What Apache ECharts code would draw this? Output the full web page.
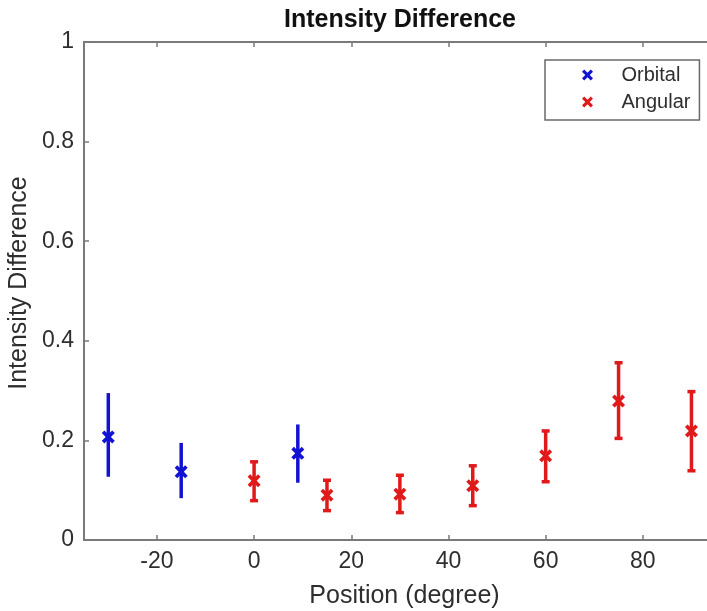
<!DOCTYPE html>
<html>
<head>
<meta charset="utf-8">
<script src="https://cdn.jsdelivr.net/npm/echarts@6/dist/echarts.min.js"></script>
<style>
html,body{margin:0;padding:0;background:#fff;}
#chart{width:707px;height:611px;}
</style>
</head>
<body>
<div id="chart"></div>
<script>
// ---- data ----
var xTicks = [-20, 0, 20, 40, 60, 80];
var yTicks = [0, 0.2, 0.4, 0.6, 0.8, 1];

var orbitalPos  = [-30, -15, 9];
var orbitalMean = [0.207, 0.137, 0.174];
var orbitalLow  = [0.127, 0.084, 0.115];
var orbitalHigh = [0.295, 0.195, 0.232];

var angularPos  = [0, 15, 30, 45, 60, 75, 90];
var angularMean = [0.119, 0.090, 0.092, 0.109, 0.169, 0.279, 0.219];
var angularLow  = [0.079, 0.059, 0.055, 0.069, 0.117, 0.204, 0.139];
var angularHigh = [0.157, 0.120, 0.130, 0.149, 0.219, 0.356, 0.298];

// ---- styling ----
var BLUE = '#1212d2';
var RED = '#e01a1a';
var AXIS = '#7a7a7a';
var TXT = '#2e2e2e';
var FONT = '"Liberation Sans", Arial, Helvetica, sans-serif';
var XPATH = 'path://M0,2 L2,0 L5,3 L8,0 L10,2 L7,5 L10,8 L8,10 L5,7 L2,10 L0,8 L3,5 Z';

function pts(xs, ys) { return xs.map(function (x, i) { return [x, ys[i]]; }); }
function bars(xs, lo, hi) { return xs.map(function (x, i) { return [x, lo[i], hi[i]]; }); }

function errRender(color, cap) {
  return function (params, api) {
    var x = api.value(0);
    var lo = api.coord([x, api.value(1)]);
    var hi = api.coord([x, api.value(2)]);
    var st = { stroke: color, lineWidth: 3.5 };
    var ch = [{ type: 'line', shape: { x1: lo[0], y1: lo[1], x2: hi[0], y2: hi[1] }, style: st }];
    if (cap > 0) {
      ch.push({ type: 'line', shape: { x1: lo[0] - cap / 2, y1: lo[1], x2: lo[0] + cap / 2, y2: lo[1] }, style: st });
      ch.push({ type: 'line', shape: { x1: hi[0] - cap / 2, y1: hi[1], x2: hi[0] + cap / 2, y2: hi[1] }, style: st });
    }
    return { type: 'group', children: ch };
  };
}

var X_MIN = -35, X_MAX = 93.2;

var chart = echarts.init(document.getElementById('chart'), null, { renderer: 'canvas' });
var option = {
  animation: false,
  backgroundColor: '#fff',
  textStyle: { fontFamily: FONT },
  title: {
    text: 'Intensity Difference',
    left: 400, top: 8, textAlign: 'center', padding: 0,
    textStyle: { fontFamily: FONT, fontSize: 25, fontWeight: 'bold', color: '#111' }
  },
  legend: {
    orient: 'vertical', left: 545, top: 60,
    padding: [5, 9, 8, 37],
    itemWidth: 58, itemHeight: 11, itemGap: 7,
    borderColor: '#6a6a6a', borderWidth: 1.5, backgroundColor: '#fff',
    textStyle: { fontFamily: FONT, fontSize: 20, color: TXT, lineHeight: 20 },
    data: [
      { name: 'Orbital', icon: XPATH, itemStyle: { color: BLUE } },
      { name: 'Angular', icon: XPATH, itemStyle: { color: RED } }
    ]
  },
  grid: { left: 84, right: 0, top: 42, bottom: 71, containLabel: false, outerBoundsMode: 'none' },
  xAxis: [{
    type: 'value', min: X_MIN, max: X_MAX, position: 'bottom',
    name: 'Position (degree)', nameLocation: 'middle', nameGap: 44,
    nameTextStyle: { fontFamily: FONT, fontSize: 25, color: TXT, padding: [0, 0, 0, 18] },
    axisLine: { show: true, onZero: false, lineStyle: { color: AXIS, width: 2 } },
    axisTick: { show: true, inside: true, length: 5, customValues: xTicks, lineStyle: { color: AXIS, width: 1.5 } },
    axisLabel: { customValues: xTicks, fontFamily: FONT, fontSize: 23, color: TXT, margin: 10 },
    splitLine: { show: false }
  }, {
    type: 'value', min: X_MIN, max: X_MAX, position: 'top',
    axisLine: { show: true, onZero: false, lineStyle: { color: AXIS, width: 2 } },
    axisTick: { show: true, inside: true, length: 5, customValues: xTicks, lineStyle: { color: AXIS, width: 1.5 } },
    axisLabel: { show: false },
    splitLine: { show: false }
  }],
  yAxis: [{
    type: 'value', min: 0, max: 1, interval: 0.2,
    name: 'Intensity Difference', nameLocation: 'middle', nameGap: 45, nameRotate: 90,
    nameTextStyle: { fontFamily: FONT, fontSize: 25, color: TXT, padding: [0, 0, 0, 16] },
    axisLine: { show: true, onZero: false, lineStyle: { color: AXIS, width: 2 } },
    axisTick: { show: true, inside: true, length: 5, lineStyle: { color: AXIS, width: 1.5 } },
    axisLabel: { fontFamily: FONT, fontSize: 23, color: TXT, margin: 10,
      formatter: function (v) { return String(+v.toFixed(2)); } },
    splitLine: { show: false }
  }],
  series: [
    {
      type: 'custom', name: 'OrbitalErr', silent: true,
      renderItem: errRender(BLUE, 0),
      encode: { x: 0, y: [1, 2] },
      data: bars(orbitalPos, orbitalLow, orbitalHigh), z: 2
    },
    {
      type: 'custom', name: 'AngularErr', silent: true,
      renderItem: errRender(RED, 8),
      encode: { x: 0, y: [1, 2] },
      data: bars(angularPos, angularLow, angularHigh), z: 2
    },
    {
      type: 'scatter', name: 'Orbital', symbol: XPATH, symbolSize: 13,
      itemStyle: { color: BLUE, opacity: 1 },
      data: pts(orbitalPos, orbitalMean), z: 3
    },
    {
      type: 'scatter', name: 'Angular', symbol: XPATH, symbolSize: 13,
      itemStyle: { color: RED, opacity: 1 },
      data: pts(angularPos, angularMean), z: 3
    }
  ]
};
chart.setOption(option);
</script>
</body>
</html>
